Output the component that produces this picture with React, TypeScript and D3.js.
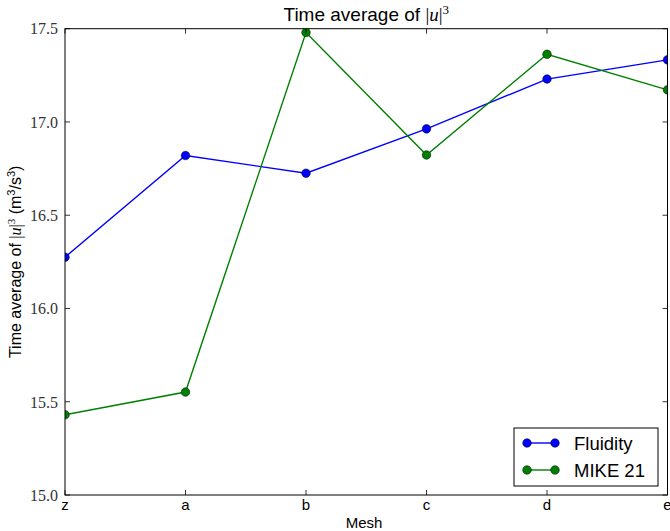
import React from "react";
import * as d3 from "d3";

const categories = ["z", "a", "b", "c", "d", "e"];
const fluidity = [16.275, 16.82, 16.725, 16.963, 17.23, 17.333];
const mike21 = [15.43, 15.552, 17.48, 16.823, 17.363, 17.172];
const yTicks = [15.0, 15.5, 16.0, 16.5, 17.0, 17.5];
const seriesNames = ["Fluidity", "MIKE 21"];
const seriesColors = ["#0000ff", "#008000"];

const W = 670;
const H = 531;
const L = 65;
const R = 667.5;
const T = 28.7;
const B = 495;

export default function App() {
  const x = d3.scalePoint<string>().domain(categories).range([L, R]);
  const y = d3.scaleLinear().domain([15, 17.5]).range([B, T]);
  const line = d3
    .line<number>()
    .x((_, i) => x(categories[i]) as number)
    .y((d) => y(d));
  const series = [fluidity, mike21];
  const serif = "'Liberation Serif', 'DejaVu Serif', serif";
  const sans = "'Liberation Sans', Arial, sans-serif";
  const tickLen = 5;

  return (
    <div style={{ position: "absolute", left: 0, top: 0 }}>
      <svg width={W} height={H} style={{ display: "block", background: "#fff" }}>
        <defs>
          <clipPath id="plotclip">
            <rect x={L} y={T} width={R - L} height={B - T} />
          </clipPath>
        </defs>
        <rect x={0} y={0} width={W} height={H} fill="#fff" />
        <g clipPath="url(#plotclip)">
          {series.map((s, si) => (
            <g key={si}>
              <path d={line(s) || ""} fill="none" stroke={seriesColors[si]} strokeWidth={1.4} />
              {s.map((v, i) => (
                <circle
                  key={i}
                  cx={x(categories[i]) as number}
                  cy={y(v)}
                  r={4.3}
                  fill={seriesColors[si]}
                  stroke="#000"
                  strokeWidth={0.5}
                />
              ))}
            </g>
          ))}
        </g>
        {/* ticks */}
        {categories.map((c) => (
          <g key={c}>
            <line x1={x(c)} x2={x(c)} y1={B} y2={B - tickLen} stroke="#000" strokeWidth={0.8} />
            <line x1={x(c)} x2={x(c)} y1={T} y2={T + tickLen} stroke="#000" strokeWidth={0.8} />
            <text x={x(c)} y={510} textAnchor="middle" fontFamily={sans} fontSize={15} fill="#000">
              {c}
            </text>
          </g>
        ))}
        {yTicks.map((t) => (
          <g key={t}>
            <line x1={L} x2={L + tickLen} y1={y(t)} y2={y(t)} stroke="#000" strokeWidth={0.8} />
            <line x1={R} x2={R - tickLen} y1={y(t)} y2={y(t)} stroke="#000" strokeWidth={0.8} />
            <text
              x={L - 7}
              y={y(t)}
              dy="0.36em"
              textAnchor="end"
              fontFamily={serif}
              fontSize={16}
              fill="#333"
            >
              {t.toFixed(1)}
            </text>
          </g>
        ))}
        <rect x={L} y={T} width={R - L} height={B - T} fill="none" stroke="#000" strokeWidth={1} />
        {/* title */}
        <text x={(L + R) / 2} y={21} textAnchor="middle" fontFamily={sans} fontSize={19} fill="#000">
          <tspan>Time average of </tspan>
          <tspan fontFamily={serif}>|</tspan>
          <tspan fontFamily={serif} fontStyle="italic">u</tspan>
          <tspan fontFamily={serif}>|</tspan>
          <tspan fontFamily={serif} fontSize={13} dy={-7}>3</tspan>
        </text>
        {/* x label */}
        <text x={364} y={528} textAnchor="middle" fontFamily={sans} fontSize={15} fill="#000">
          Mesh
        </text>
        {/* y label */}
        <text
          transform={`translate(21, ${(T + B) / 2}) rotate(-90)`}
          textAnchor="middle"
          fontFamily={sans}
          fontSize={16}
          fill="#000"
        >
          <tspan>Time average of </tspan>
          <tspan fontFamily={serif}>|</tspan>
          <tspan fontFamily={serif} fontStyle="italic">u</tspan>
          <tspan fontFamily={serif}>|</tspan>
          <tspan fontFamily={serif} fontSize={11} dy={-6}>3</tspan>
          <tspan dy={6}> (m</tspan>
          <tspan fontSize={11} dy={-6}>3</tspan>
          <tspan dy={6}>/s</tspan>
          <tspan fontSize={11} dy={-6}>3</tspan>
          <tspan dy={6}>)</tspan>
        </text>
        {/* legend */}
        <rect x={514} y={428} width={144} height={58} fill="#fff" stroke="#000" strokeWidth={1} />
        {seriesNames.map((n, i) => {
          const ly = 443 + i * 27;
          return (
            <g key={n}>
              <line x1={527} x2={555} y1={ly} y2={ly} stroke={seriesColors[i]} strokeWidth={1.4} />
              <circle cx={527} cy={ly} r={4.3} fill={seriesColors[i]} stroke="#000" strokeWidth={0.5} />
              <circle cx={555} cy={ly} r={4.3} fill={seriesColors[i]} stroke="#000" strokeWidth={0.5} />
              <text x={574} y={ly} dy="0.36em" fontFamily={sans} fontSize={18.5} fill="#000">
                {n}
              </text>
            </g>
          );
        })}
      </svg>
    </div>
  );
}
